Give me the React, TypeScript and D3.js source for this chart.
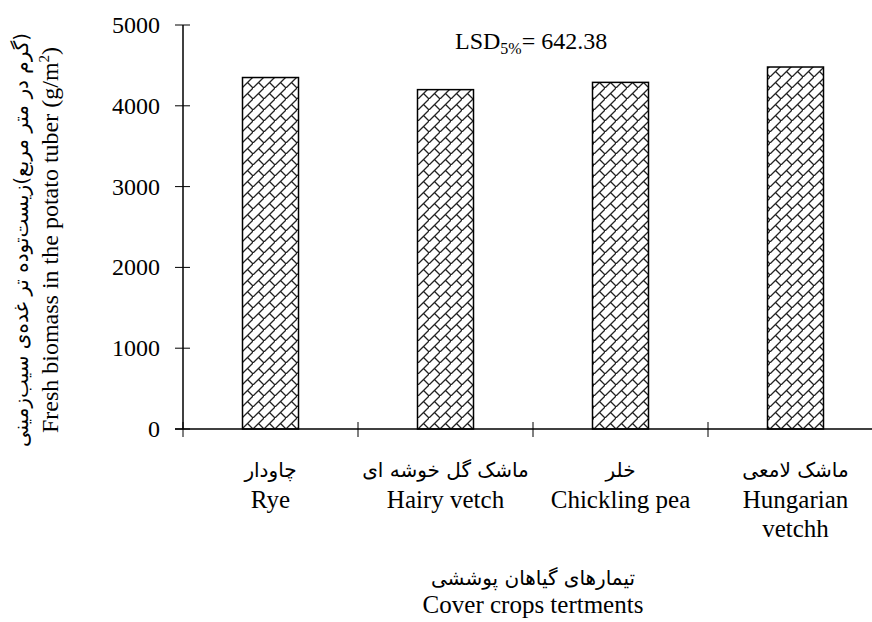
import React, { useEffect, useRef } from "react";
import * as d3 from "d3";

const categoriesFa = ["چاودار", "ماشک گل خوشه ای", "خلر", "ماشک لامعی"];
const categoriesEn = [["Rye"], ["Hairy vetch"], ["Chickling pea"], ["Hungarian", "vetchh"]];
const biomass = [4350, 4200, 4290, 4480];
const yTicks = [0, 1000, 2000, 3000, 4000, 5000];

const W = 872;
const H = 622;
const serif = "Liberation Serif, DejaVu Serif, serif";
const persian = "DejaVu Sans, sans-serif";

const App: React.FC = () => {
    const svgRef = useRef<SVGSVGElement>(null);

    useEffect(() => {
        if (!svgRef.current) return;
        const svg = d3.select(svgRef.current);
        svg.selectAll("*").remove();

        const margin = { left: 183, top: 25, bottom: 193 };
        const plotH = H - margin.top - margin.bottom;
        const plotW = 700;

        // brick-like diagonal hatch
        const defs = svg.append("defs");
        const pat = defs.append("pattern")
            .attr("id", "brick")
            .attr("patternUnits", "userSpaceOnUse")
            .attr("width", 11)
            .attr("height", 11);
        pat.append("rect").attr("width", 11).attr("height", 11).attr("fill", "#fff");
        pat.append("path")
            .attr("d", "M-1,12 L12,-1 M5.5,5.5 L11,11")
            .attr("stroke", "#222")
            .attr("stroke-width", 1.3)
            .attr("fill", "none");

        const x = d3.scaleBand<number>()
            .domain(d3.range(categoriesFa.length))
            .range([margin.left, margin.left + plotW])
            .paddingInner(0.68)
            .paddingOuter(0.34);

        const y = d3.scaleLinear()
            .domain([0, 5000])
            .range([margin.top + plotH, margin.top]);

        const g = svg.append("g");

        // bars
        g.selectAll("rect.bar")
            .data(biomass)
            .enter()
            .append("rect")
            .attr("class", "bar")
            .attr("x", (_, i) => x(i) || 0)
            .attr("y", d => y(d))
            .attr("width", x.bandwidth())
            .attr("height", d => y(0) - y(d))
            .attr("fill", "url(#brick)")
            .attr("stroke", "#000")
            .attr("stroke-width", 1.5);

        // y axis
        g.append("line")
            .attr("x1", margin.left).attr("x2", margin.left)
            .attr("y1", y(0)).attr("y2", y(5000))
            .attr("stroke", "#000").attr("stroke-width", 1.5);
        g.selectAll("line.ytick")
            .data(yTicks)
            .enter()
            .append("line")
            .attr("class", "ytick")
            .attr("x1", margin.left - 8).attr("x2", margin.left + 7)
            .attr("y1", d => y(d)).attr("y2", d => y(d))
            .attr("stroke", "#000").attr("stroke-width", 1);
        g.selectAll("text.ylab")
            .data(yTicks)
            .enter()
            .append("text")
            .attr("class", "ylab")
            .attr("x", margin.left - 23)
            .attr("y", d => y(d) + 8)
            .attr("text-anchor", "end")
            .style("font-family", serif)
            .style("font-size", "24px")
            .text(d => String(d));

        // x axis
        g.append("line")
            .attr("x1", margin.left - 8).attr("x2", margin.left + plotW)
            .attr("y1", y(0)).attr("y2", y(0))
            .attr("stroke", "#000").attr("stroke-width", 1.5);
        const step = x.step();
        g.selectAll("line.xtick")
            .data(d3.range(categoriesFa.length + 1))
            .enter()
            .append("line")
            .attr("class", "xtick")
            .attr("x1", i => margin.left + i * step)
            .attr("x2", i => margin.left + i * step)
            .attr("y1", y(0) - 7).attr("y2", y(0) + 8)
            .attr("stroke", "#000").attr("stroke-width", 1);

        categoriesFa.forEach((fa, i) => {
            const cx = (x(i) || 0) + x.bandwidth() / 2;
            g.append("text")
                .attr("x", cx)
                .attr("y", 477)
                .attr("text-anchor", "middle")
                .style("font-family", persian)
                .style("font-size", "20px")
                .attr("direction", "rtl")
                .text(fa);
            categoriesEn[i].forEach((line, j) => {
                g.append("text")
                    .attr("x", cx)
                    .attr("y", 508 + j * 29)
                    .attr("text-anchor", "middle")
                    .style("font-family", serif)
                    .style("font-size", "25px")
                    .text(line);
            });
        });

        // x title
        const tx = margin.left + 350;
        g.append("text")
            .attr("x", tx).attr("y", 585)
            .attr("text-anchor", "middle")
            .style("font-family", persian)
            .style("font-size", "20px")
            .attr("direction", "rtl")
            .text("تیمارهای گیاهان پوششی");
        g.append("text")
            .attr("x", tx).attr("y", 613)
            .attr("text-anchor", "middle")
            .style("font-family", serif)
            .style("font-size", "25px")
            .text("Cover crops tertments");

        // y title
        const cy = 240;
        g.append("text")
            .attr("transform", `translate(28,${cy}) rotate(-90)`)
            .attr("text-anchor", "middle")
            .style("font-family", persian)
            .style("font-size", "20px")
            .attr("direction", "rtl")
            .text("(گرم در متر مربع)زیست‌توده تر غده‌ی سیب‌زمینی");
        const en = g.append("text")
            .attr("transform", `translate(58,${cy}) rotate(-90)`)
            .attr("text-anchor", "middle")
            .style("font-family", serif)
            .style("font-size", "24px");
        en.append("tspan").text("Fresh biomass in the potato tuber (g/m");
        en.append("tspan").style("font-size", "15px").attr("dy", -9).text("2");
        en.append("tspan").attr("dy", 9).text(")");

        // LSD annotation
        const lsd = g.append("text")
            .attr("x", 455).attr("y", 49)
            .style("font-family", serif)
            .style("font-size", "24px");
        lsd.append("tspan").text("LSD");
        lsd.append("tspan").style("font-size", "16px").attr("dy", 5).text("5%");
        lsd.append("tspan").attr("dy", -5).text("= 642.38");
    }, []);

    return (
        <svg
            ref={svgRef}
            width={W}
            height={H}
            style={{ position: "absolute", top: 0, left: 0, background: "#fff" }}
        />
    );
};

export default App;
